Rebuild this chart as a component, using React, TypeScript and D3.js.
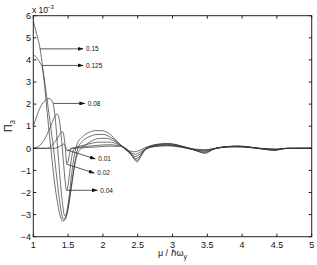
import * as d3 from 'd3'

// values (x = mu / hbar omega_y, y = Pi_3 in units of 1e-3)
const c015 = [
  [1, 5.75], [1.05, 5.15], [1.1, 4.45], [1.13, 3.75], [1.16, 2.9], [1.2, 1.6], [1.25, 0.05], [1.3, -1.4],
  [1.35, -2.5], [1.39, -3.1], [1.43, -3.3], [1.47, -3.05], [1.51, -2.3], [1.55, -1.2], [1.59, -0.3], [1.63, 0.2],
  [1.7, 0.5], [1.8, 0.72], [1.9, 0.8], [1.98, 0.8], [2.06, 0.72], [2.15, 0.5], [2.23, 0.22], [2.31, 0],
  [2.38, -0.12], [2.45, -0.16], [2.52, -0.1], [2.6, 0.02], [2.7, 0.13], [2.85, 0.2], [2.95, 0.21], [3.05, 0.17],
  [3.18, 0.06], [3.28, -0.02], [3.38, -0.05], [3.47, -0.06], [3.56, -0.03], [3.65, 0.02], [3.8, 0.07], [3.95, 0.08],
  [4.1, 0.05], [4.25, 0], [4.38, -0.02], [4.48, -0.03], [4.6, -0.01], [4.75, 0], [5, 0],
]
const c0125 = [
  [1, 4.2], [1.03, 4.17], [1.07, 4.0], [1.1, 3.85], [1.13, 3.65], [1.16, 3.1], [1.19, 2.4], [1.24, 1.2],
  [1.29, 0], [1.34, -1.4], [1.39, -2.65], [1.43, -3.2], [1.46, -3.2], [1.5, -2.7], [1.55, -1.7], [1.6, -0.6],
  [1.64, 0], [1.7, 0.3], [1.8, 0.52], [1.9, 0.62], [2.0, 0.63], [2.1, 0.52], [2.2, 0.3], [2.3, 0.02],
  [2.4, -0.2], [2.47, -0.27], [2.55, -0.14], [2.65, 0.05], [2.75, 0.16], [2.9, 0.21], [3.0, 0.19], [3.12, 0.1],
  [3.25, 0], [3.37, -0.07], [3.47, -0.09], [3.57, -0.04], [3.66, 0.02], [3.8, 0.08], [3.95, 0.1], [4.1, 0.06],
  [4.25, 0], [4.38, -0.03], [4.48, -0.045], [4.58, -0.02], [4.7, 0], [5, 0],
]
const c008 = [
  [1, 1.0], [1.05, 1.45], [1.1, 1.85], [1.15, 2.1], [1.2, 2.22], [1.23, 2.25], [1.26, 2.18], [1.29, 1.95],
  [1.32, 1.2], [1.35, 0], [1.38, -1.2], [1.42, -2.5], [1.45, -3.05], [1.48, -3.0], [1.52, -2.3], [1.57, -1.2],
  [1.63, -0.3], [1.69, 0], [1.75, 0.15], [1.85, 0.35], [1.95, 0.45], [2.05, 0.45], [2.15, 0.35], [2.25, 0.15],
  [2.35, -0.12], [2.42, -0.3], [2.47, -0.37], [2.53, -0.27], [2.6, -0.07], [2.67, 0.06], [2.8, 0.16], [2.93, 0.19],
  [3.05, 0.14], [3.17, 0.05], [3.27, -0.03], [3.38, -0.1], [3.47, -0.12], [3.56, -0.06], [3.65, 0.01], [3.8, 0.08],
  [3.95, 0.1], [4.1, 0.06], [4.25, 0], [4.38, -0.04], [4.48, -0.06], [4.57, -0.03], [4.67, 0], [5, 0],
]
const c004 = [
  [1, 0], [1.05, 0.04], [1.1, 0.15], [1.15, 0.35], [1.2, 0.65], [1.25, 1.0], [1.3, 1.38], [1.34, 1.55],
  [1.37, 1.35], [1.4, 0.6], [1.43, -0.5], [1.455, -1.4], [1.477, -1.9], [1.5, -1.65], [1.53, -0.9], [1.56, -0.25],
  [1.6, 0.02], [1.7, 0.12], [1.8, 0.2], [1.95, 0.28], [2.1, 0.28], [2.2, 0.2], [2.3, 0.04], [2.38, -0.2],
  [2.44, -0.4], [2.48, -0.47], [2.53, -0.35], [2.59, -0.1], [2.66, 0.05], [2.8, 0.14], [2.92, 0.16], [3.05, 0.12],
  [3.18, 0.03], [3.3, -0.06], [3.4, -0.14], [3.47, -0.16], [3.54, -0.1], [3.62, 0], [3.75, 0.07], [3.92, 0.09],
  [4.08, 0.06], [4.22, 0], [4.36, -0.05], [4.47, -0.07], [4.56, -0.03], [4.65, 0], [5, 0],
]
const c002 = [
  [1, 0], [1.2, 0], [1.25, 0.08], [1.3, 0.25], [1.35, 0.48], [1.39, 0.68], [1.42, 0.75], [1.44, 0.55],
  [1.46, 0], [1.48, -0.7], [1.5, -0.6], [1.52, -0.25], [1.55, 0], [1.65, 0.05], [1.8, 0.1], [1.95, 0.14],
  [2.1, 0.16], [2.22, 0.12], [2.32, 0], [2.39, -0.2], [2.45, -0.45], [2.49, -0.55], [2.54, -0.35], [2.6, -0.08],
  [2.67, 0.04], [2.8, 0.11], [2.92, 0.13], [3.05, 0.1], [3.18, 0.02], [3.3, -0.07], [3.4, -0.17], [3.47, -0.2],
  [3.53, -0.13], [3.6, -0.02], [3.7, 0.04], [3.9, 0.08], [4.08, 0.05], [4.22, 0], [4.36, -0.06], [4.47, -0.09],
  [4.55, -0.04], [4.63, 0], [5, 0],
]
const c001 = [
  [1, 0], [1.3, 0], [1.35, 0.04], [1.4, 0.12], [1.44, 0.2], [1.465, 0.08], [1.485, -0.1], [1.5, -0.12],
  [1.52, -0.04], [1.55, 0], [1.7, 0.02], [1.9, 0.06], [2.1, 0.1], [2.25, 0.09], [2.33, 0], [2.4, -0.22],
  [2.45, -0.5], [2.49, -0.62], [2.54, -0.4], [2.6, -0.1], [2.67, 0.03], [2.8, 0.09], [2.92, 0.11], [3.05, 0.08],
  [3.2, 0.01], [3.32, -0.08], [3.41, -0.19], [3.47, -0.23], [3.53, -0.15], [3.6, -0.02], [3.7, 0.03], [3.9, 0.06],
  [4.08, 0.04], [4.22, 0], [4.36, -0.06], [4.47, -0.1], [4.55, -0.05], [4.63, 0], [5, 0],
]
const curves = [c015, c0125, c008, c004, c002, c001]

// arrow annotations: [label, x0, y0, x1, y1]
const arrows = [
  ['0.15', 1.096, 4.5, 1.715, 4.5],
  ['0.125', 1.13, 3.75, 1.715, 3.75],
  ['0.08', 1.29, 2.03, 1.74, 2.03],
  ['0.01', 1.49, -0.08, 1.89, -0.48],
  ['0.02', 1.48, -0.72, 1.876, -1.12],
  ['0.04', 1.477, -1.9, 1.92, -1.9],
]

const xTicks = [1, 1.5, 2, 2.5, 3, 3.5, 4, 4.5, 5]
const yTicks = [-4, -3, -2, -1, 0, 1, 2, 3, 4, 5, 6]

const W = 317
const H = 265
const left = 33.3
const right = 311.7
const top = 15.7
const bottom = 236.7

export default function App() {
  const x = d3.scaleLinear().domain([1, 5]).range([left, right])
  const y = d3.scaleLinear().domain([-4, 6]).range([bottom, top])
  const line = d3
    .line()
    .x((d) => x(d[0]))
    .y((d) => y(d[1]))
    .curve(d3.curveMonotoneX)
  const font = 'Liberation Sans, Arial, Helvetica, sans-serif'
  const tl = 3

  return (
    <svg
      width={W}
      height={H}
      style={{ position: 'absolute', left: 0, top: 0, background: '#fff' }}
      fontFamily={font}
    >
      <defs>
        <marker id="ah" markerUnits="userSpaceOnUse" markerWidth="6" markerHeight="4" refX="5.5" refY="2" orient="auto">
          <path d="M0,0 L6,2 L0,4 Z" fill="#111" />
        </marker>
      </defs>
      <rect x={0} y={0} width={W} height={H} fill="#fff" />

      {curves.map((c, i) => (
        <path key={i} d={line(c)} fill="none" stroke="#333" strokeWidth={0.7} />
      ))}

      {arrows.map((a, i) => (
        <g key={i}>
          <line
            x1={x(a[1])}
            y1={y(a[2])}
            x2={x(a[3])}
            y2={y(a[4])}
            stroke="#111"
            strokeWidth={0.7}
            markerEnd="url(#ah)"
          />
          <text x={x(a[3]) + 3} y={y(a[4]) + 2.4} fontSize={6.5} fill="#111">
            {a[0]}
          </text>
        </g>
      ))}

      {/* axes box */}
      <rect x={left} y={top} width={right - left} height={bottom - top} fill="none" stroke="#222" strokeWidth={1} />
      {xTicks.map((t) => (
        <g key={'x' + t}>
          <line x1={x(t)} x2={x(t)} y1={bottom} y2={bottom - tl} stroke="#222" />
          <line x1={x(t)} x2={x(t)} y1={top} y2={top + tl} stroke="#222" />
          <text x={x(t)} y={247.5} fontSize={9} textAnchor="middle" fill="#111">
            {String(t)}
          </text>
        </g>
      ))}
      {yTicks.map((t) => (
        <g key={'y' + t}>
          <line x1={left} x2={left + tl} y1={y(t)} y2={y(t)} stroke="#222" />
          <line x1={right} x2={right - tl} y1={y(t)} y2={y(t)} stroke="#222" />
          <text x={31} y={y(t) + 3.2} fontSize={9} textAnchor="end" fill="#111">
            {t < 0 ? '\u2212' + Math.abs(t) : String(t)}
          </text>
        </g>
      ))}

      <text x={32} y={13} fontSize={8.5} fill="#111">
        x 10
      </text>
      <text x={47} y={8.5} fontSize={6} fill="#111">
        {'\u22123'}
      </text>

      <text x={(left + right) / 2} y={256} fontSize={9} textAnchor="middle" fill="#111">
        {'\u03bc / \u210f\u03c9'}
        <tspan fontSize={7} dy={3}>
          y
        </tspan>
      </text>

      <text transform={`translate(12,${(top + bottom) / 2}) rotate(-90)`} fontSize={11} textAnchor="middle" fill="#111">
        {'\u03a0'}
        <tspan fontSize={7.5} dy={3}>
          3
        </tspan>
      </text>
    </svg>
  )
}
